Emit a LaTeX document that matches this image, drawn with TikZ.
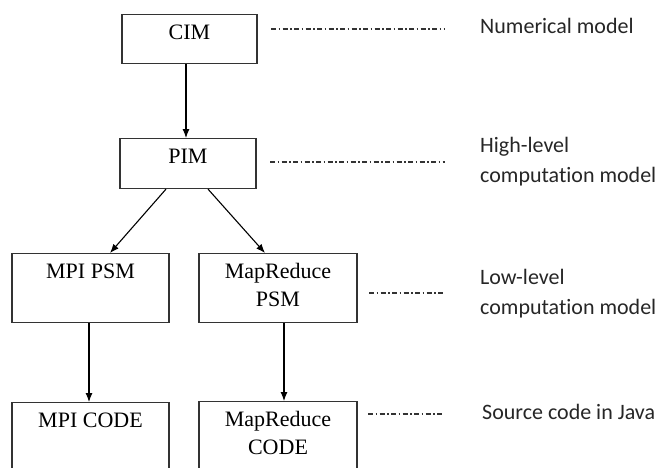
\documentclass[tikz,border=0pt]{standalone}
\usepackage{fontspec}
\setmainfont{Liberation Serif}
\newfontfamily\notefont[Ligatures=NoCommon]{Carlito}
\usetikzlibrary{arrows.meta}

\begin{document}
\begin{tikzpicture}[x=1pt,y=-1pt,
        box/.style={draw=black!80,line width=1.1pt,anchor=north,inner xsep=0pt,inner ysep=10pt,
          text height=15pt,text depth=#1,font=\fontsize{22}{28}\selectfont},
        note/.style={anchor=base west,inner sep=0pt,text=black!85,font=\notefont\fontsize{22}{30}\selectfont},
        flow/.style={line width=1.1pt,-{Latex[length=9pt,width=7pt]}},
        link/.style={line width=1.2pt,black!80,dash pattern=on 5pt off 2.5pt on 1.5pt off 2.5pt}]
        \useasboundingbox (0,0) rectangle (663,467);
        \clip (0,0) rectangle (663,467);
        \node [box=14pt,minimum width=135pt] (cim) at (189.5,14) {CIM};
        \node [box=15pt,minimum width=136pt] (pim) at (188,138) {PIM};
        \node [box=34pt,minimum width=157pt] (mpipsm) at (90.5,253) {MPI PSM};
        \node [box=34pt,minimum width=158pt] (mrpsm) at (278,253) {\begin{tabular}[t]{@{}c@{}}MapReduce\\PSM\end{tabular}};
        \node [box=35pt,minimum width=157pt] (mpicode) at (90.5,402) {MPI CODE};
        \node [box=35pt,minimum width=158pt] (mrcode) at (278,401) {\begin{tabular}[t]{@{}c@{}}MapReduce\\CODE\end{tabular}};
        \node [note] (numeric) at (480,33) {Numerical model};
        \node [note] (highlevel) at (480,152) {\begin{tabular}[t]{@{}l@{}}High-level\\computation model\end{tabular}};
        \node [note] (lowlevel) at (480,284) {\begin{tabular}[t]{@{}l@{}}Low-level\\computation model\end{tabular}};
        \node [note] (source) at (482,419) {Source code in Java};
        \coordinate (n1a) at (271,29);
        \coordinate (n1b) at (445,29);
        \coordinate (n2a) at (270,162);
        \coordinate (n2b) at (445,162);
        \coordinate (n3a) at (369,293);
        \coordinate (n3b) at (445,293);
        \coordinate (n4a) at (368,414);
        \coordinate (n4b) at (443,414);
        \draw [flow] ([xshift=-3.5pt]cim.south) -- ([xshift=-2pt]pim.north);
        \draw [flow] ([xshift=-22pt]pim.south) -- ([xshift=19.5pt]mpipsm.north);
        \draw [flow] ([xshift=20pt]pim.south) -- ([xshift=-13pt]mrpsm.north);
        \draw [flow] ([xshift=-1.5pt]mpipsm.south) -- ([xshift=-1.5pt]mpicode.north);
        \draw [flow] ([xshift=6pt]mrpsm.south) -- ([xshift=6pt]mrcode.north);
        \draw [link] (n1a) -- (n1b);
        \draw [link] (n2a) -- (n2b);
        \draw [link] (n3a) -- (n3b);
        \draw [link] (n4a) -- (n4b);
\end{tikzpicture}
\end{document}
